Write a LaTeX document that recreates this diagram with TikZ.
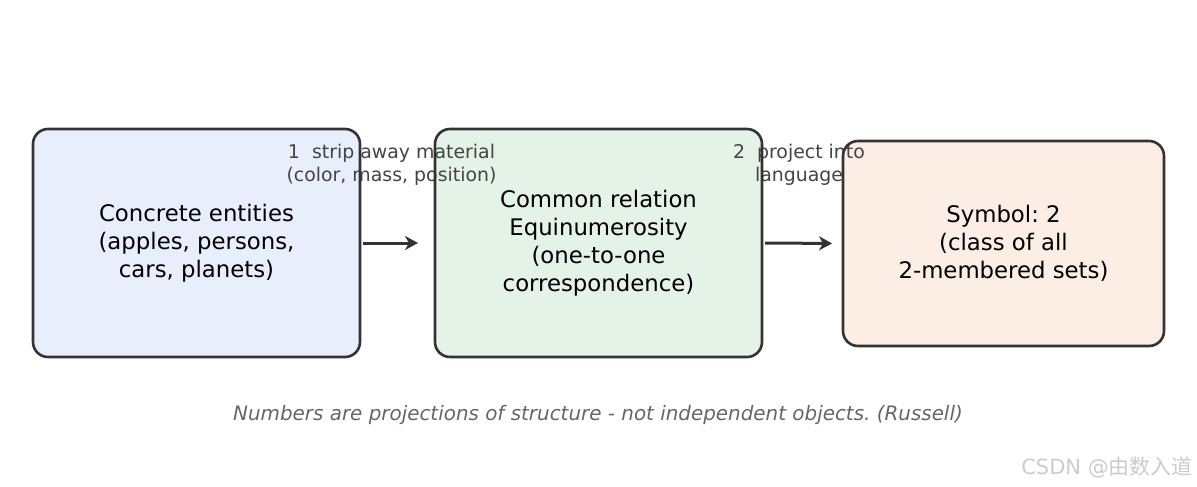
\documentclass[tikz,border=0pt]{standalone}
\usepackage{fontspec}
\setmainfont{DejaVu Sans}
\newfontfamily\cjkfont{Noto Sans CJK SC}
\usetikzlibrary{arrows.meta}
\frenchspacing
\definecolor{edgec}{HTML}{333333}
\definecolor{fillA}{HTML}{E8EEFB}
\definecolor{fillB}{HTML}{E5F2E8}
\definecolor{fillC}{HTML}{FDEEE5}
\definecolor{labc}{HTML}{444444}
\definecolor{capc}{HTML}{666666}
\definecolor{wmc}{HTML}{CCCCCC}
\tikzset{
  boxfill/.style={rounded corners=15pt, inner sep=0pt, outer sep=0pt, align=center,
    font=\fontsize{22.8}{28}\selectfont, text=black},
  boxedge/.style={draw=edgec, line width=2.6pt, rounded corners=15pt},
  steplabel/.style={align=center, font=\fontsize{18.9}{23}\selectfont, text=labc, inner sep=0pt},
  flow/.style={draw=edgec, line width=3pt, -{Stealth[length=13pt,width=14pt,inset=4pt]}},
}
\begin{document}
\begin{tikzpicture}[x=1pt,y=-1pt]
\useasboundingbox[fill=white] (0,0) rectangle (1197,487);
\node[boxfill, fill=fillA, minimum width=327pt, minimum height=228pt] (b1) at (196.5,243) {Concrete entities\\(apples, persons,\\cars, planets)};
\node[boxfill, fill=fillB, minimum width=327pt, minimum height=228pt] (b2) at (598.5,243) {Common relation\\Equinumerosity\\(one-to-one\\correspondence)};
\node[boxfill, fill=fillC, minimum width=321pt, minimum height=205pt] (b3) at (1003.5,243.5) {Symbol: 2\\(class of all\\2-membered sets)};
\node[steplabel] (l1) at (391.5,164.5) {1\ \ strip away material\\(color, mass, position)};
\node[steplabel] (l2) at (799,164.5) {2\ \ project into\\language};
\foreach \b in {b1,b2,b3} \draw[boxedge] (\b.south west) rectangle (\b.north east);
\draw[flow, shorten <=3pt, shorten >=17pt] (b1.east) -- (b2.west);
\draw[flow, shorten <=3pt, shorten >=11pt] (b2.east) -- (b3.west);
\node[font=\fontsize{19.9}{22}\selectfont\itshape, text=capc] (cap) at (598,415) {Numbers are projections of structure - not independent objects. (Russell)};
\node[font=\fontsize{21}{24}\selectfont, text=wmc, anchor=east, inner sep=0pt] (wm) at (1193,467) {CSDN @{\cjkfont 由数入道}};
\end{tikzpicture}
\end{document}
